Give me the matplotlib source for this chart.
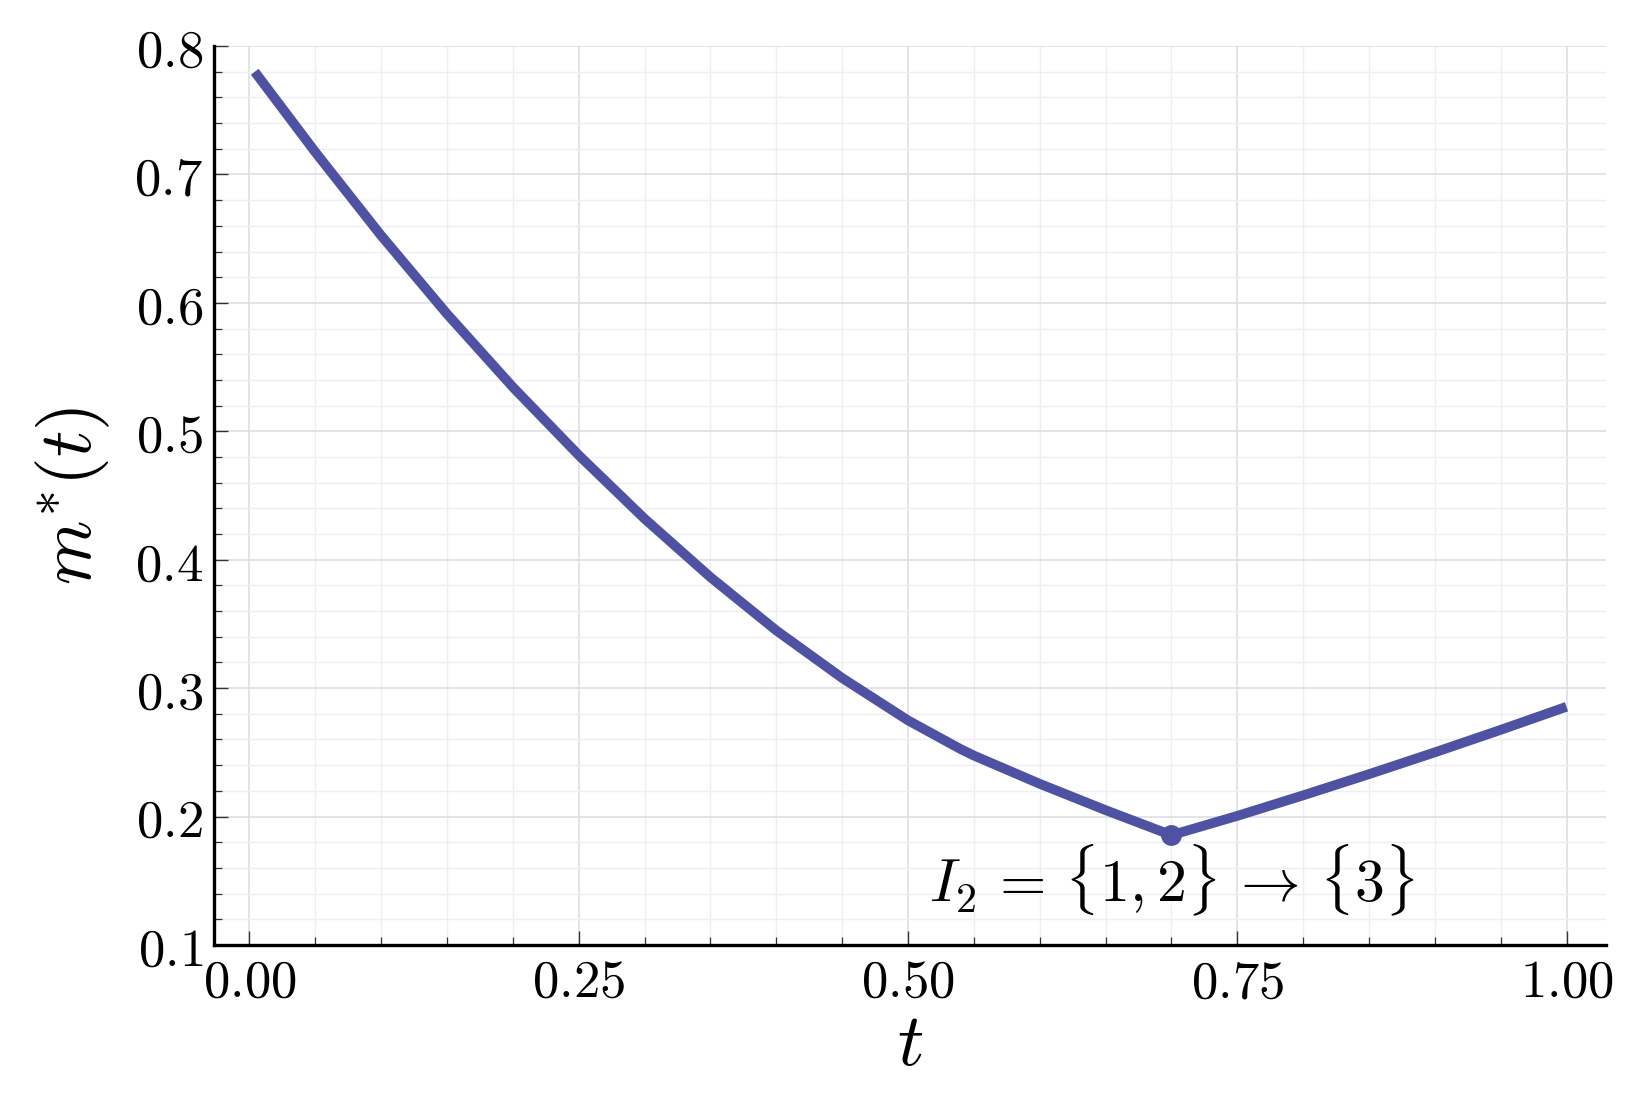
import matplotlib
matplotlib.use("Agg")
import matplotlib.pyplot as plt
from matplotlib.ticker import MultipleLocator, FuncFormatter

plt.rcParams['mathtext.fontset'] = 'cm'
plt.rcParams['font.family'] = ['DejaVu Sans']

# Data
t_vals = [0.004, 0.05, 0.10, 0.15, 0.20, 0.25, 0.30, 0.35, 0.40, 0.45, 0.50, 0.54,
          0.55, 0.60, 0.65, 0.70, 0.75, 0.80, 0.85, 0.90, 0.95, 1.00]
m_vals = [0.780, 0.7174, 0.6524, 0.5914, 0.5344, 0.4814, 0.4319, 0.3864, 0.3449, 0.3079, 0.2749, 0.2525,
          0.2475, 0.2255, 0.205, 0.1855, 0.2005, 0.2165, 0.233, 0.250, 0.2675, 0.2855]
switch_t = [0.70]
switch_m = [0.1855]
annotation = r'$I_2 \,=\, \{1, 2\} \,\rightarrow\, \{3\}$'
x_ticks = [0.00, 0.25, 0.50, 0.75, 1.00]
y_ticks = [0.1, 0.2, 0.3, 0.4, 0.5, 0.6, 0.7, 0.8]

color = '#4f52a2'

fig = plt.figure(figsize=(16.43, 10.97), dpi=100)
ax = fig.add_axes([0.1302, 0.1386, 0.9775 - 0.1302, 0.958 - 0.1386])

ax.plot(t_vals, m_vals, color=color, lw=7.0, solid_capstyle='butt', zorder=3)
ax.plot(switch_t, switch_m, 'o', color=color, ms=14, zorder=4)
ax.text(0.70, 0.150, annotation, ha='center', va='center', fontsize=43)

ax.set_xlim(-0.027, 1.03)
ax.set_ylim(0.1, 0.8)
ax.set_xticks(x_ticks)
ax.set_yticks(y_ticks)
ax.xaxis.set_minor_locator(MultipleLocator(0.05))
ax.yaxis.set_minor_locator(MultipleLocator(0.02))
ax.xaxis.set_major_formatter(FuncFormatter(lambda v, p: r'$%.2f$' % v))
ax.yaxis.set_major_formatter(FuncFormatter(lambda v, p: r'$%.1f$' % v))

for s in ['top', 'right']:
    ax.spines[s].set_visible(False)
for s in ['left', 'bottom']:
    ax.spines[s].set_linewidth(2.4)
    ax.spines[s].set_color('black')

ax.tick_params(which='major', direction='in', length=10, width=1.0, color='#333333',
               labelsize=38, pad=8)
ax.tick_params(which='minor', direction='in', length=6, width=0.9, color='#333333')

ax.grid(which='major', color='#dedee6', lw=1.2, zorder=0)
ax.grid(which='minor', color='#efeff3', lw=1.0, zorder=0)
ax.set_axisbelow(True)

ax.set_xlabel(r'$t$', fontsize=53, labelpad=0)
ax.set_ylabel(r'$m^{*}(t)$', fontsize=53, labelpad=16)

fig.savefig('out.png', dpi=100)
